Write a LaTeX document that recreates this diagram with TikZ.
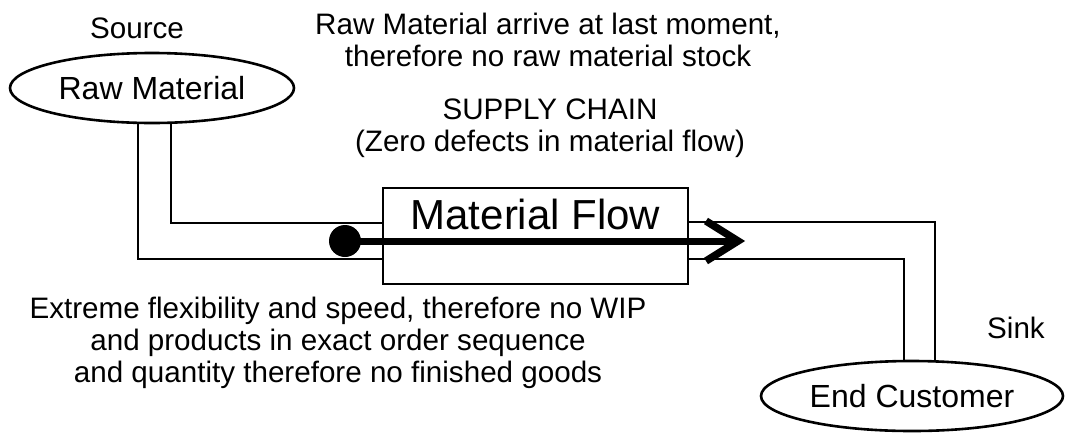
\documentclass[tikz,border=0pt]{standalone}
\usepackage{fontspec}
\setmainfont{Liberation Sans}
\usetikzlibrary{shapes.geometric}
\begin{document}
\begin{tikzpicture}[x=1pt,y=-1pt,
  ln/.style={line width=2.6pt},
  txt/.style={font=\fontsize{29.6}{33}\selectfont, inner sep=0pt, align=center},
  ell/.style={draw, line width=2.6pt, ellipse, inner sep=0pt, font=\fontsize{32}{36}\selectfont}]
\useasboundingbox (0,0) rectangle (1067,432);
% nodes
\node[ell, minimum width=284pt, minimum height=70pt] (rm) at (152,88) {Raw Material};
\node[ell, minimum width=302pt, minimum height=70pt] (ec) at (912,396) {End Customer};
\node[draw, line width=2.6pt, minimum width=305pt, minimum height=96pt, inner sep=0pt] (mf) at (535.5,236) {};
\node[font=\fontsize{42}{46}\selectfont, inner sep=0pt] (mft) at (535.5,214) {Material Flow};
% texts
\node[txt] (src) at (137,28) {Source};
\node[txt] (top) at (548,40) {Raw Material arrive at last moment,\\[-1pt] therefore no raw material stock};
\node[txt] (sc) at (550,128) {SUPPLY CHAIN\\[-1pt](Zero defects in material flow)};
\node[txt] (ext) at (338,343) {Extreme flexibility and speed, therefore no WIP\\[-1pt]and products in exact order sequence\\[-1pt]and quantity therefore no finished goods};
\node[txt] (snk) at (1016,328) {Sink};
% channel coordinates
\coordinate (a1) at (138,122.8);
\coordinate (a2) at (171,122);
\coordinate (b1) at (904,360.5);
\coordinate (b2) at (935,360.5);
\draw[ln] (a2) |- (mf.west |- 0,223);
\draw[ln] (a1) |- (mf.west |- 0,259);
\draw[ln] (mf.east |- 0,222) -| (b2);
\draw[ln] (mf.east |- 0,259) -| (b1);
% flow arrow
\coordinate (dot) at (345,241);
\coordinate (tip) at (738,241);
\coordinate (tu) at (706,221);
\coordinate (tl) at (706,261);
\fill (dot) circle (16);
\draw[line width=7pt] (dot) -- (tip);
\draw[line width=7.5pt, miter limit=4] (tu) -- (tip) -- (tl);
\end{tikzpicture}
\end{document}
